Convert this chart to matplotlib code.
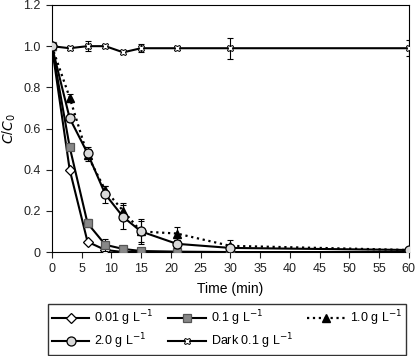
import numpy as np
import matplotlib.pyplot as plt

plt.rcParams['font.family'] = ['Liberation Sans', 'DejaVu Sans']

time = [0, 3, 6, 9, 12, 15, 21, 30, 60]
c001 = [1.0, 0.40, 0.05, 0.01, 0.0, 0.0, 0.0, 0.0, 0.0]
c01 = [1.0, 0.51, 0.14, 0.035, 0.015, 0.005, 0.002, 0.0, 0.0]
c10 = [1.0, 0.75, 0.47, 0.30, 0.20, 0.10, 0.09, 0.03, 0.01]
c20 = [1.0, 0.65, 0.48, 0.28, 0.17, 0.10, 0.04, 0.02, 0.01]
dark = [1.0, 0.99, 1.0, 1.0, 0.97, 0.99, 0.99, 0.99, 0.99]

err01 = [0, 0.01, 0.02, 0.03, 0.01, 0.005, 0.005, 0, 0]
err10 = [0, 0.02, 0.03, 0.02, 0.04, 0.05, 0.03, 0.03, 0.01]
err20 = [0, 0.02, 0.03, 0.04, 0.06, 0.06, 0.02, 0.01, 0.01]
errdark = [0, 0.01, 0.025, 0.01, 0.01, 0.02, 0.01, 0.05, 0.04]

labels = ['0.01 g L$^{-1}$', '0.1 g L$^{-1}$', '1.0 g L$^{-1}$',
          '2.0 g L$^{-1}$', 'Dark 0.1 g L$^{-1}$']

fig = plt.figure(figsize=(4.18, 3.56), dpi=100)
ax = fig.add_axes([0.124, 0.292, 0.854, 0.694])

eb = dict(ecolor='black', elinewidth=0.8, capsize=2.5, capthick=0.8)
h = []
h.append(ax.errorbar(time, c001, color='black', lw=1.5, marker='D', ms=5,
                     mfc='white', mec='black', mew=0.9, zorder=3)[0])
ax.errorbar(time, c01, yerr=err01, color='black', lw=1.5, ls='none', zorder=4, **eb)
h.append(ax.plot(time, c01, color='black', lw=1.5, marker='s', ms=6,
                 mfc='#888888', mec='#555555', mew=0.9, zorder=4)[0])
ax.errorbar(time, c10, yerr=err10, ls='none', zorder=3, **eb)
h.append(ax.plot(time, c10, color='black', lw=1.6, ls=':', marker='^', ms=6,
                 mfc='black', mec='black', zorder=3)[0])
ax.errorbar(time, c20, yerr=err20, ls='none', zorder=5, **eb)
h.append(ax.plot(time, c20, color='black', lw=1.5, marker='o', ms=6.5,
                 mfc='#d9d9d9', mec='black', mew=0.9, zorder=5)[0])
ax.errorbar(time, dark, yerr=errdark, ls='none', zorder=3, **eb)
h.append(ax.plot(time, dark, color='black', lw=1.5, marker='X', ms=5,
                 mfc='white', mec='black', mew=0.7, zorder=3)[0])

ax.set_xlim(0, 60)
ax.set_ylim(0, 1.2)
ax.set_xticks(np.arange(0, 61, 5))
ax.set_yticks([0, 0.2, 0.4, 0.6, 0.8, 1.0, 1.2])
ax.set_yticklabels(['0', '0.2', '0.4', '0.6', '0.8', '1.0', '1.2'])
ax.tick_params(direction='out', length=4, width=0.8, labelsize=9, colors='#222222',
               pad=4)
ax.set_xlabel('Time (min)', fontsize=10, labelpad=5)
ax.set_ylabel('$C$/$C_0$', fontsize=10, labelpad=4)
for s in ax.spines.values():
    s.set_linewidth(0.8)

order = [0, 3, 1, 4, 2]
fig.legend([h[i] for i in order], [labels[i] for i in order],
           loc='lower left', bbox_to_anchor=(48 / 418, 0.003, 358 / 418, 43 / 356),
           mode='expand', ncol=3, fontsize=9, frameon=True, fancybox=False,
           edgecolor='black', handlelength=3.0, handletextpad=0.4,
           borderpad=0.3, labelspacing=0.3, borderaxespad=0)

fig.savefig('out.png', dpi=100)
